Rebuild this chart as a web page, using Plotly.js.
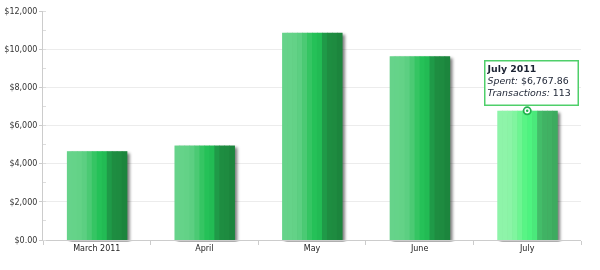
<!DOCTYPE html>
<html>
<head>
<meta charset="utf-8">
<script src="https://cdn.plot.ly/plotly-3.0.1.min.js"></script>
<style>
  html, body { margin: 0; padding: 0; background: #fff; }
  #chart { width: 600px; height: 270px; }
</style>
</head>
<body>
<div id="chart"></div>
<script>
// Monthly spending
const months = ['March 2011', 'April', 'May', 'June', 'July'];
const spent = [4654, 4950, 10860, 9635, 6767.86];
const transactions = [null, null, null, null, 113];
const highlightIndex = 4;
const tooltipTitle = 'July 2011';

const yTickVals = [0, 2000, 4000, 6000, 8000, 10000, 12000];
const yTickText = ['$0.00', '$2,000', '$4,000', '$6,000', '$8,000', '$10,000', '$12,000'];

// Horizontal shading of each bar, left to right (cylinder look)
const shadeNormal = ['#66d38a', '#65d389', '#63d287', '#5ccf82', '#4bca74', '#35c563',
                     '#25c158', '#22bb54', '#1f9a48', '#1e8d41', '#1e8b40', '#1c853d'];
const shadeActive = ['#8ef4a9', '#8ef4a9', '#8bf4a7', '#80f59f', '#6df592', '#58f585',
                     '#4ef380', '#4ae97b', '#43bd69', '#40b364', '#40b163', '#3dab5f'];

const barWidth = 0.556;
const nStripes = shadeNormal.length;
const stripeW = barWidth / nStripes;

const traces = [];

// soft drop shadow behind each bar
traces.push({
  type: 'bar', x: months, y: spent,
  width: barWidth, offset: -barWidth / 2,
  marker: { color: 'rgba(0,0,0,0.5)', line: { width: 0 } },
  hoverinfo: 'skip', showlegend: false
});

for (let k = 0; k < nStripes; k++) {
  traces.push({
    type: 'bar', x: months, y: spent,
    width: stripeW + 0.006,
    offset: -barWidth / 2 + k * stripeW,
    marker: {
      color: months.map((m, i) => i === highlightIndex ? shadeActive[k] : shadeNormal[k]),
      line: { width: 0 }
    },
    hoverinfo: 'skip', showlegend: false
  });
}

// hovered point marker on top of the active bar
traces.push({
  type: 'scatter', mode: 'markers',
  x: [months[highlightIndex]], y: [spent[highlightIndex]],
  marker: { size: 9, color: '#22b24e', line: { width: 0 } },
  hoverinfo: 'skip', showlegend: false, cliponaxis: false
});
traces.push({
  type: 'scatter', mode: 'markers',
  x: [months[highlightIndex]], y: [spent[highlightIndex]],
  marker: { size: 4, color: '#22b24e', line: { width: 1.5, color: '#ffffff' } },
  hoverinfo: 'skip', showlegend: false, cliponaxis: false
});

const fmtMoney = v => '$' + v.toLocaleString('en-US', { minimumFractionDigits: 2, maximumFractionDigits: 2 });

const layout = {
  width: 600, height: 270,
  margin: { l: 43, r: 19, t: 11, b: 30 },
  paper_bgcolor: '#ffffff', plot_bgcolor: '#ffffff',
  barmode: 'overlay',
  bargap: 0.444,
  showlegend: false,
  font: { family: 'DejaVu Sans, Verdana, sans-serif', size: 8, color: '#333333' },
  xaxis: {
    type: 'category',
    showgrid: false,
    showline: true, linecolor: '#cccccc', linewidth: 1,
    ticks: 'outside', tickson: 'boundaries', ticklen: 4, tickcolor: '#cccccc',
    tickfont: { family: 'DejaVu Sans, Verdana, sans-serif', size: 8, color: '#222222' },
    fixedrange: true
  },
  yaxis: {
    range: [0, 12000],
    tickvals: yTickVals, ticktext: yTickText,
    showgrid: true, gridcolor: '#ececec', gridwidth: 1,
    zeroline: false,
    showline: true, linecolor: '#cccccc', linewidth: 1,
    ticks: 'outside', ticklen: 3, tickcolor: '#cccccc',
    minor: { dtick: 1000, ticks: 'inside', ticklen: 3, tickcolor: '#dddddd', showgrid: false },
    tickfont: { family: 'DejaVu Sans, Verdana, sans-serif', size: 8, color: '#333333' },
    fixedrange: true
  },
  annotations: [{
    xref: 'x', yref: 'y',
    x: months[highlightIndex], y: spent[highlightIndex],
    xanchor: 'center', yanchor: 'bottom',
    xshift: 4.5, yshift: 5,
    showarrow: false,
    align: 'left', valign: 'top',
    width: 90, height: 41,
    bgcolor: '#ffffff', bordercolor: '#4fcf6a', borderwidth: 1.5, borderpad: 1,
    font: { family: 'DejaVu Sans, Verdana, sans-serif', size: 9.4, color: '#1c2333' },
    text: '<b>' + tooltipTitle + '</b><br><i>Spent:</i> ' + fmtMoney(spent[highlightIndex]) +
          '<br><i>Transactions:</i> ' + transactions[highlightIndex]
  }]
};

Plotly.newPlot('chart', traces, layout, { displayModeBar: false, staticPlot: true }).then(() => {
  const groups = document.querySelectorAll('#chart .barlayer .trace');
  if (groups.length) {
    groups[0].style.transform = 'translate(3px, 2px)';
    groups[0].style.filter = 'blur(1.5px)';
  }
});
</script>
</body>
</html>
